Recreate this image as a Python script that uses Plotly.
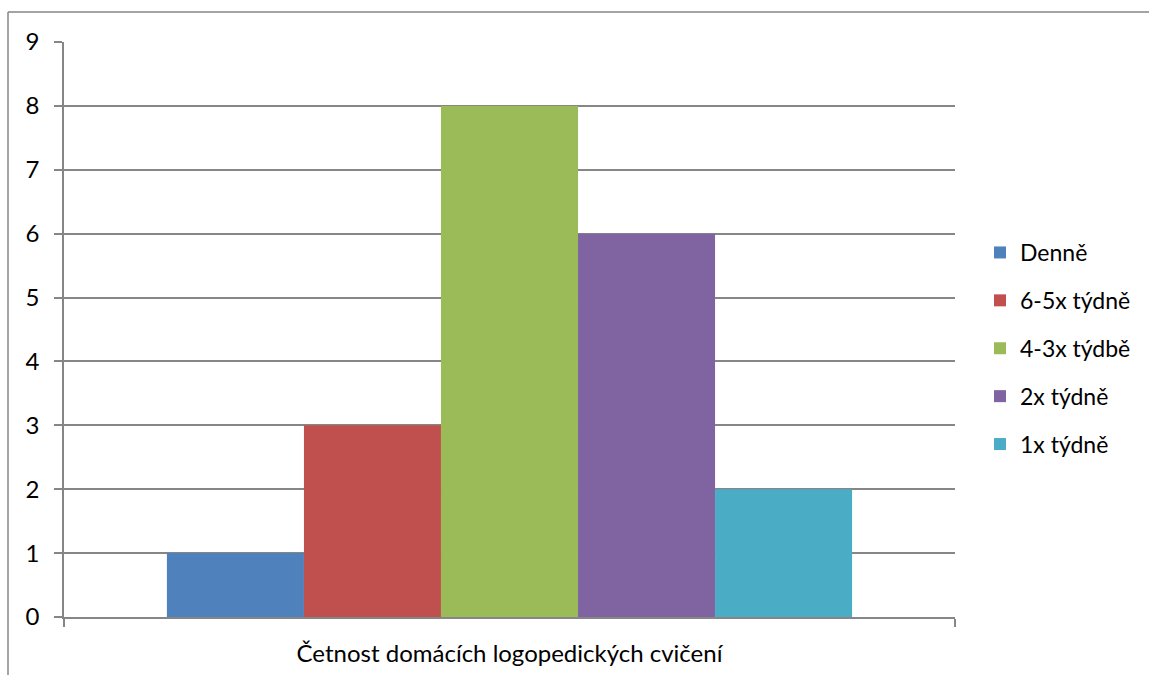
import plotly.graph_objects as go

group_label = "Četnost domácích logopedických cvičení"
series_names = ["Denně", "6-5x týdně", "4-3x týdbě", "2x týdně", "1x týdně"]
series_values = [1, 3, 8, 6, 2]
series_colors = ["#4F81BD", "#C0504D", "#9BBB59", "#8064A2", "#4BACC6"]
y_ticks = list(range(0, 10))

W, H = 1149, 675
L, R, T, B = 64, 194, 42, 58

fig = go.Figure()
for name, val, col in zip(series_names, series_values, series_colors):
    fig.add_trace(go.Bar(
        x=[group_label], y=[val], name=name, legendgroup=name,
        marker=dict(color=col, line=dict(width=0)),
    ))

font = "Lato, Carlito, 'Open Sans', sans-serif"
FS = 24
fig.update_layout(
    width=W, height=H,
    margin=dict(l=L, r=R, t=T, b=B, pad=0, autoexpand=False),
    paper_bgcolor="white", plot_bgcolor="white",
    barmode="group", bargap=0.231, bargroupgap=0,
    font=dict(family=font, size=FS, color="#000000"),
    showlegend=True,
    legend=dict(
        xref="container", yref="container",
        x=980 / W, y=1 - 231 / H, xanchor="left", yanchor="top",
        font=dict(family=font, size=23, color="#000000"),
        tracegroupgap=15, itemwidth=30,
        bgcolor="rgba(0,0,0,0)",
    ),
    xaxis=dict(
        type="category", showgrid=False, showline=True, automargin=False,
        linecolor="#868686", linewidth=1.5,
        ticks="outside", tickson="boundaries", ticklen=8,
        tickcolor="#868686", tickwidth=1.5,
        tickfont=dict(size=FS), ticklabelstandoff=14,
    ),
    yaxis=dict(
        range=[0, 9], tickvals=y_ticks, showgrid=True, automargin=False,
        gridcolor="#868686", gridwidth=1.5,
        showline=True, linecolor="#868686", linewidth=1.5,
        ticks="outside", ticklen=8, tickcolor="#868686", tickwidth=1.5,
        tickfont=dict(size=FS), zeroline=False,
        ticklabelstandoff=10,
    ),
    shapes=[
        dict(type="line", xref="paper", yref="paper",
             x0=(8 - L) / (W - L - R), x1=(W - L) / (W - L - R) + 0.01,
             y0=(H - B - 12) / (H - T - B), y1=(H - B - 12) / (H - T - B),
             line=dict(color="#868686", width=1.5)),
        dict(type="line", xref="paper", yref="paper",
             x0=(8 - L) / (W - L - R), x1=(8 - L) / (W - L - R),
             y0=(H - B - 12) / (H - T - B), y1=-0.2,
             line=dict(color="#868686", width=1.5)),
    ],
)

fig.write_html("out.html", config={"displayModeBar": False},
               post_script="document.body.style.margin='0';document.body.style.overflow='hidden';")
